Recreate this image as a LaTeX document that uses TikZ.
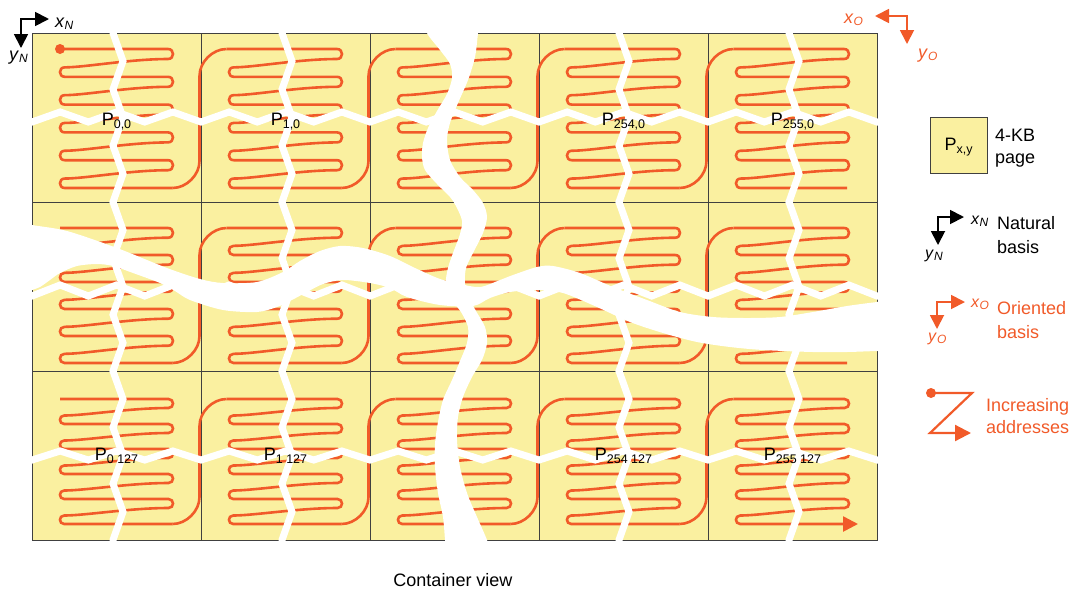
\documentclass[tikz,border=0pt]{standalone}
\usepackage{fontspec}
\setmainfont{Liberation Sans}
\usetikzlibrary{arrows.meta}
\definecolor{pgyel}{HTML}{FAF0A0}
\definecolor{sorg}{HTML}{F15A29}
\newcommand{\subtx}[1]{\raisebox{-3pt}{\fontsize{12.5}{12.5}\selectfont #1}}
\newcommand{\axl}[2]{\textit{#1}\raisebox{-2.5pt}{\fontsize{12}{12}\selectfont\textit{#2}}}
\tikzset{
  serp/.style={draw=sorg, line width=2.6pt},
  wz/.style={draw=white, line width=7pt},
  pgbox/.style={fill=pgyel, draw=black!75, line width=1pt},
  lab/.style={font=\fontsize{18}{18}\selectfont, inner sep=0pt, anchor=base},
  lt/.style={inner sep=0pt, anchor=north west, align=left},
  axlab/.style={font=\fontsize{18}{18}\selectfont, inner sep=0pt, anchor=base west},
  bax/.style={line width=1.8pt, {Triangle[length=14pt,width=14pt]}-{Triangle[length=14pt,width=14pt]}},
}
% one page of serpentine: #1 X0, #2 first line y, #3 spacing, #4 start x, #5 end x of last line
\newcommand{\loops}[5]{%
  \pgfmathsetmacro{\xL}{#1+28}%
  \pgfmathsetmacro{\xR}{#1+141}%
  \pgfmathsetmacro{\ua}{0.36*#3}%
  \pgfmathsetmacro{\ur}{0.18*#3}%
  \pgfmathsetmacro{\ud}{0.34*#3}%
  \draw[serp] (#4,#2) -- ({\xR-\ur},#2)
    foreach \k in {0,...,4} {
      .. controls ({\xR+0.33*\ur},{#2+\k*#3}) and ({\xR+0.33*\ur},{#2+\k*#3+\ua}) .. ({\xR-\ur},{#2+\k*#3+\ua})
      .. controls ({\xL+70},{#2+\k*#3+\ua}) and ({\xL+25},{#2+(\k+1)*#3-\ud}) .. ({\xL+0.5*\ud},{#2+(\k+1)*#3-\ud})
      .. controls ({\xL-0.17*\ud},{#2+(\k+1)*#3-\ud}) and ({\xL-0.17*\ud},{#2+(\k+1)*#3}) .. ({\xL+0.5*\ud},{#2+(\k+1)*#3})
      -- ({\xR-\ur},{#2+(\k+1)*#3})
    } -- (#5,{#2+5*#3});
}
% one row: #1 first line y, #2 spacing, #3 end x of the row
\newcommand{\srow}[3]{%
  \pgfmathsetmacro{\yb}{#1+5*#2}%
  \foreach \cc in {0,...,4}{%
    \pgfmathsetmacro{\XX}{32+169*\cc}%
    \pgfmathsetmacro{\xB}{\XX+167.5}%
    \ifnum\cc=0 \pgfmathsetmacro{\sx}{\XX+28}\else \pgfmathsetmacro{\sx}{\XX+25.5}\fi
    \ifnum\cc=4 \def\ex{#3}\else \pgfmathsetmacro{\ex}{\xB-27}\fi
    \loops{\XX}{#1}{#2}{\sx}{\ex}%
    \ifnum\cc<4
      \draw[serp] ({\xB-27},\yb) .. controls ({\xB-13},\yb) and (\xB,{\yb-13}) .. (\xB,{\yb-27})
        -- (\xB,{#1+27}) .. controls (\xB,{#1+13}) and ({\xB+13},#1) .. ({\xB+27},#1);
    \fi
  }%
}
\newcommand{\vzig}[1]{\draw[wz] ({#1-5},27) foreach \k in {0,...,18} { -- ({#1-5+10*mod(\k,2)},{33+\k*28.167}) } -- ({#1-5},546);}
\newcommand{\hzig}[2]{\draw[wz] (27,#1) foreach \k in {0,...,30} { -- ({32+\k*28.167},{#1+(#2-#1)*mod(\k,2)}) } -- (882,#1);}
\begin{document}
\begin{tikzpicture}[x=1pt,y=-1pt]
\useasboundingbox (0,0) rectangle (1070,590);
% pages
\foreach \r in {0,1,2}{
  \foreach \cc in {0,...,4}{
    \draw[pgbox] ({32+169*\cc},{33+169*\r}) rectangle +(169,169);
  }
}
% address serpentines
\srow{49}{27.8}{847}
\srow{228}{27}{847}
\srow{399}{25}{845}
\fill[sorg] (60,49) circle (5pt);
\coordinate (aend0) at (835,524);
\coordinate (aend1) at (858,524);
\draw[serp, -{Triangle[length=15pt,width=15pt]}] (aend0) -- (aend1);
% white breaks
\hzig{122}{112}
\hzig{296}{285}
\hzig{460}{451}
\vzig{118}
\vzig{287}
\vzig{624}
\vzig{794}
\fill[white] plot[smooth] coordinates {(15,221) (32,225) (67,231) (117,248) (167,268) (200,279) (223,283) (257,282) (283,272) (300,261) (320,251) (340,246) (363,248) (390,256) (415,268) (440,279) (460,284) (480,287) (500,280) (513,275) (537,267) (553,266) (580,273) (613,287) (647,300) (680,312) (713,317) (747,318) (780,317) (813,312) (847,306) (877,302) (895,300)}
  -- plot[smooth] coordinates {(895,351) (877,351) (847,352) (813,352) (763,350) (730,347) (697,342) (663,333) (630,322) (597,307) (563,293) (537,290) (510,292) (490,298) (473,306) (440,305) (407,297) (390,288) (370,283) (343,280) (323,284) (307,292) (290,301) (277,307) (257,312) (223,310) (190,300) (175,291) (160,283) (133,273) (113,266) (97,264) (77,266) (60,273) (50,280) (40,287) (32,290) (15,297)} -- cycle;
\fill[white] plot[smooth] coordinates {(427,20) (427,33) (440,50) (450,64) (452,78) (447,94) (437,111) (428,128) (423,143) (422,157) (425,170) (437,184) (450,197) (457,208) (462,221) (460,234) (453,253) (448,268) (446,283) (452,300) (461,312) (468,327) (467,343) (460,361) (452,380) (443,400) (438,422) (435,444) (435,467) (438,493) (443,517) (445,540) (446,550)}
  -- plot[smooth] coordinates {(489,550) (487,540) (477,517) (467,493) (460,467) (457,440) (458,417) (463,397) (472,377) (482,360) (487,343) (485,327) (476,311) (468,296) (465,283) (466,268) (473,253) (483,233) (487,217) (483,203) (473,190) (460,177) (450,160) (447,140) (450,123) (458,103) (468,80) (475,57) (478,33) (479,20)} -- cycle;
% page labels
\node[lab] (p00) at (116.5,125) {P\subtx{0,0}};
\node[lab] (p10) at (285.5,125) {P\subtx{1,0}};
\node[lab] (p2540) at (623.5,125) {P\subtx{254,0}};
\node[lab] (p2550) at (792.5,125) {P\subtx{255,0}};
\node[lab] (p0127) at (116.5,460) {P\subtx{0 127}};
\node[lab] (p1127) at (285.5,460) {P\subtx{1 127}};
\node[lab] (p254127) at (623.5,460) {P\subtx{254 127}};
\node[lab] (p255127) at (792.5,460) {P\subtx{255 127}};
% natural basis top left
\coordinate (nx) at (49,19);
\coordinate (nc) at (21,19);
\coordinate (ny) at (21,48);
\draw[bax, black] (nx) -- (nc) -- (ny);
\node[axlab] (xn) at (55,27) {\axl{x}{N}};
\node[axlab] (yn) at (9,60) {\axl{y}{N}};
% oriented basis top right
\coordinate (ox) at (875,16);
\coordinate (oc) at (907,16);
\coordinate (oy) at (907,44);
\draw[bax, sorg] (ox) -- (oc) -- (oy);
\node[axlab, text=sorg] (xo) at (844,23) {\axl{x}{O}};
\node[axlab, text=sorg] (yo) at (918,58) {\axl{y}{O}};
% legend: page
\draw[pgbox] (930,117) rectangle (987,173);
\node[lab] (pxy) at (958.5,150) {P\subtx{x,y}};
\node[lt, font=\fontsize{18}{21.5}\selectfont] (kb) at (995,129.3) {4-KB\\page};
% legend: natural basis
\coordinate (lnx) at (964,217);
\coordinate (lnc) at (938,217);
\coordinate (lny) at (938,245);
\draw[bax, black] (lnx) -- (lnc) -- (lny);
\node[axlab, font=\fontsize{16}{16}\selectfont] (lxn) at (971,224) {\axl{x}{N}};
\node[axlab, font=\fontsize{16}{16}\selectfont] (lyn) at (925,258) {\axl{y}{N}};
\node[lt, font=\fontsize{18}{23.5}\selectfont] (nat) at (997,216.5) {Natural\\basis};
% legend: oriented basis
\coordinate (lox) at (965,302);
\coordinate (loc) at (937,302);
\coordinate (loy) at (937,329);
\draw[bax, sorg] (lox) -- (loc) -- (loy);
\node[axlab, font=\fontsize{16}{16}\selectfont, text=sorg] (lxo) at (971,307) {\axl{x}{O}};
\node[axlab, font=\fontsize{16}{16}\selectfont, text=sorg] (lyo) at (928,341) {\axl{y}{O}};
\node[lt, font=\fontsize{18}{23.5}\selectfont, text=sorg] (ori) at (997,301.5) {Oriented\\basis};
% legend: increasing addresses
\coordinate (z0) at (931,393);
\coordinate (z1) at (972,393);
\coordinate (z2) at (930,433);
\coordinate (z3) at (971,433);
\fill[sorg] (z0) circle (5pt);
\draw[sorg, line width=2.2pt, -{Triangle[length=16pt,width=16pt]}] (z0) -- (z1) -- (z2) -- (z3);
\node[lt, font=\fontsize{18}{22}\selectfont, text=sorg] (inc) at (986,398) {Increasing\\addresses};
% caption
\node[font=\fontsize{18}{18}\selectfont, inner sep=0pt, anchor=base] (cv) at (453,586) {Container view};
\end{tikzpicture}
\end{document}
